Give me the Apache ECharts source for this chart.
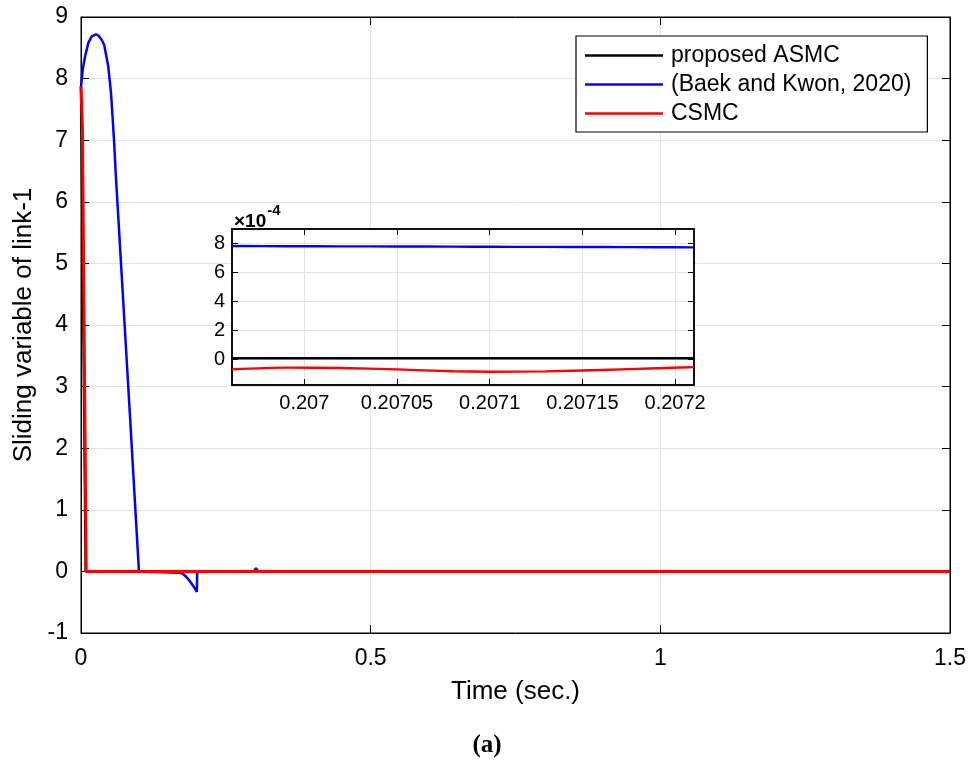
<!DOCTYPE html>
<html><head><meta charset="utf-8">
<script src="https://cdn.jsdelivr.net/npm/echarts@6/dist/echarts.min.js"></script>
<style>html,body{margin:0;padding:0;background:#fff}#c{width:974px;height:762px}</style>
</head><body><div id="c"></div>
<script>
// Main plot data (time in s, sliding variable)
const asmcT = [0, 0.004, 0.008, 1.5];
const asmcV = [7.87, 4.0, 0, 0];
const baekT = [0, 0.003, 0.007, 0.0127, 0.018, 0.026, 0.03, 0.035, 0.04, 0.047, 0.0518, 0.057, 0.06, 0.065, 0.07, 0.075, 0.08, 0.085, 0.09, 0.095, 0.1, 0.13, 0.17, 0.176, 0.182, 0.188, 0.194, 0.2, 0.2005, 0.21, 0.298, 0.302, 0.306, 1.5];
const baekV = [7.87, 8.15, 8.36, 8.58, 8.68, 8.72, 8.7, 8.64, 8.55, 8.2, 7.77, 7.0, 6.45, 5.65, 4.85, 4.05, 3.25, 2.45, 1.63, 0.82, 0.0, -0.01, -0.02, -0.04, -0.09, -0.16, -0.24, -0.33, 0, 0, 0, 0.05, 0, 0];
const csmcT = [0, 0.0025, 0.009, 1.5];
const csmcV = [7.87, 7.2, 0, 0];
const mainXTicks = [0, 0.5, 1, 1.5];
const mainYTicks = [-1, 0, 1, 2, 3, 4, 5, 6, 7, 8, 9];

// Inset data (values in units of 1e-4)
const insetT = [0.206961, 0.20699, 0.20702, 0.20705, 0.20708, 0.2071, 0.20713, 0.20716, 0.20719, 0.2072102];
const insetAsmc = [0.05, 0.05, 0.05, 0.05, 0.05, 0.05, 0.05, 0.05, 0.05, 0.05];
const insetBaek = [7.82, 7.81, 7.8, 7.79, 7.78, 7.77, 7.76, 7.75, 7.74, 7.73];
const insetCsmc = [-0.72, -0.6, -0.62, -0.72, -0.85, -0.88, -0.86, -0.76, -0.64, -0.56];
const insetXTicks = [0.207, 0.20705, 0.2071, 0.20715, 0.2072];
const insetYTicks = [0, 2, 4, 6, 8];

const zip = (a, b) => a.map((v, i) => [v, b[i]]);
const font = 'Liberation Sans, Arial, sans-serif';
const gridCol = '#e3e3e3';

const chart = echarts.init(document.getElementById('c'));
const tickStyle = {show: true, inside: true, length: 8, lineStyle: {color: '#000', width: 1}};
const tickStyleS = {show: true, inside: true, length: 6, lineStyle: {color: '#000', width: 1}};
const axLine = (w) => ({show: true, onZero: false, lineStyle: {color: '#000', width: w}});
chart.setOption({
  animation: false,
  backgroundColor: '#fff',
  title: [
    {text: '(a)', left: 'center', top: 728, textStyle: {fontFamily: 'Liberation Serif, Times New Roman, serif', fontWeight: 'bold', fontSize: 25, color: '#000'}},
    {text: '{a|×10}{b|-4}', left: 234, top: 203, padding: 0, textStyle: {rich: {a: {fontFamily: font, fontSize: 19, color: '#000', padding: [9, 0, 0, 0]}, b: {fontFamily: font, fontSize: 15, color: '#000', verticalAlign: 'top', padding: [0, 0, 9, 1]}}}}
  ],
  legend: {
    left: 576, top: 36, orient: 'vertical', icon: 'rect',
    padding: [8, 16, 7, 9], itemGap: 6, itemWidth: 78, itemHeight: 2.4,
    borderColor: '#000', borderWidth: 1.2, backgroundColor: '#fff',
    textStyle: {fontFamily: font, fontSize: 23, color: '#000', lineHeight: 23, padding: [0, 0, 0, 3]},
    data: ['proposed ASMC', '(Baek and Kwon, 2020)', 'CSMC']
  },
  grid: [
    {left: 81, top: 17, width: 869, height: 616, show: true, borderColor: '#000', borderWidth: 1, backgroundColor: '#fff'},
    {left: 232, top: 229, width: 462, height: 156, show: true, borderColor: '#000', borderWidth: 1.5, backgroundColor: '#fff', z: 5}
  ],
  xAxis: [
    {type: 'value', gridIndex: 0, min: 0, max: 1.5, interval: 0.5, name: 'Time (sec.)', nameLocation: 'middle', nameGap: 46,
     nameTextStyle: {fontFamily: font, fontSize: 26, color: '#000'},
     axisLine: axLine(1), axisTick: tickStyle,
     axisLabel: {fontFamily: font, fontSize: 23, color: '#000', margin: 14},
     splitLine: {show: true, lineStyle: {color: gridCol, width: 1}}},
    {type: 'value', gridIndex: 0, position: 'top', min: 0, max: 1.5, interval: 0.5,
     axisLine: axLine(1), axisTick: tickStyle, axisLabel: {show: false}, splitLine: {show: false}},
    {type: 'value', gridIndex: 1, min: 0.206961, max: 0.2072102, z: 6,
     axisLine: axLine(1.5),
     axisTick: Object.assign({customValues: insetXTicks}, tickStyleS),
     axisLabel: {customValues: insetXTicks, fontFamily: font, fontSize: 20, color: '#000', margin: 8, formatter: v => String(+v.toFixed(5))},
     splitLine: {show: true, lineStyle: {color: gridCol, width: 1}}},
    {type: 'value', gridIndex: 1, position: 'top', min: 0.206961, max: 0.2072102, z: 6,
     axisLine: axLine(1.5),
     axisTick: Object.assign({customValues: insetXTicks}, tickStyleS), axisLabel: {show: false}, splitLine: {show: false}}
  ],
  yAxis: [
    {type: 'value', gridIndex: 0, min: -1, max: 9, interval: 1, name: 'Sliding variable of link-1', nameLocation: 'middle', nameGap: 44,
     nameTextStyle: {fontFamily: font, fontSize: 26, color: '#000'},
     axisLine: axLine(1), axisTick: tickStyle,
     axisLabel: {fontFamily: font, fontSize: 23, color: '#000', margin: 13},
     splitLine: {show: true, lineStyle: {color: gridCol, width: 1}}},
    {type: 'value', gridIndex: 0, position: 'right', min: -1, max: 9, interval: 1,
     axisLine: axLine(1), axisTick: tickStyle, axisLabel: {show: false}, splitLine: {show: false}},
    {type: 'value', gridIndex: 1, min: -1.8, max: 9, z: 6,
     axisLine: axLine(1.5),
     axisTick: Object.assign({customValues: insetYTicks}, tickStyleS),
     axisLabel: {customValues: insetYTicks, fontFamily: font, fontSize: 20, color: '#000', margin: 7},
     splitLine: {show: true, lineStyle: {color: gridCol, width: 1}}},
    {type: 'value', gridIndex: 1, position: 'right', min: -1.8, max: 9, z: 6,
     axisLine: axLine(1.5),
     axisTick: Object.assign({customValues: insetYTicks}, tickStyleS), axisLabel: {show: false}, splitLine: {show: false}}
  ],
  series: [
    {name: 'proposed ASMC', type: 'line', xAxisIndex: 0, yAxisIndex: 0, data: zip(asmcT, asmcV), symbol: 'none', lineStyle: {color: '#000', width: 2.4}, itemStyle: {color: '#000'}},
    {name: '(Baek and Kwon, 2020)', type: 'line', xAxisIndex: 0, yAxisIndex: 0, data: zip(baekT, baekV), symbol: 'none', lineStyle: {color: '#0000ff', width: 2.5}, itemStyle: {color: '#0000ff'}},
    {name: 'CSMC', type: 'line', xAxisIndex: 0, yAxisIndex: 0, data: zip(csmcT, csmcV), symbol: 'none', lineStyle: {color: '#ff0000', width: 3}, itemStyle: {color: '#ff0000'}},
    {name: 'proposed ASMC', type: 'line', xAxisIndex: 2, yAxisIndex: 2, data: zip(insetT, insetAsmc), symbol: 'none', smooth: 0.3, z: 7, lineStyle: {color: '#000', width: 2.4}},
    {name: '(Baek and Kwon, 2020)', type: 'line', xAxisIndex: 2, yAxisIndex: 2, data: zip(insetT, insetBaek), symbol: 'none', smooth: 0.3, z: 7, lineStyle: {color: '#0000ff', width: 2.4}},
    {name: 'CSMC', type: 'line', xAxisIndex: 2, yAxisIndex: 2, data: zip(insetT, insetCsmc), symbol: 'none', smooth: 0.3, z: 7, lineStyle: {color: '#ff0000', width: 2.4}}
  ]
});
</script></body></html>
